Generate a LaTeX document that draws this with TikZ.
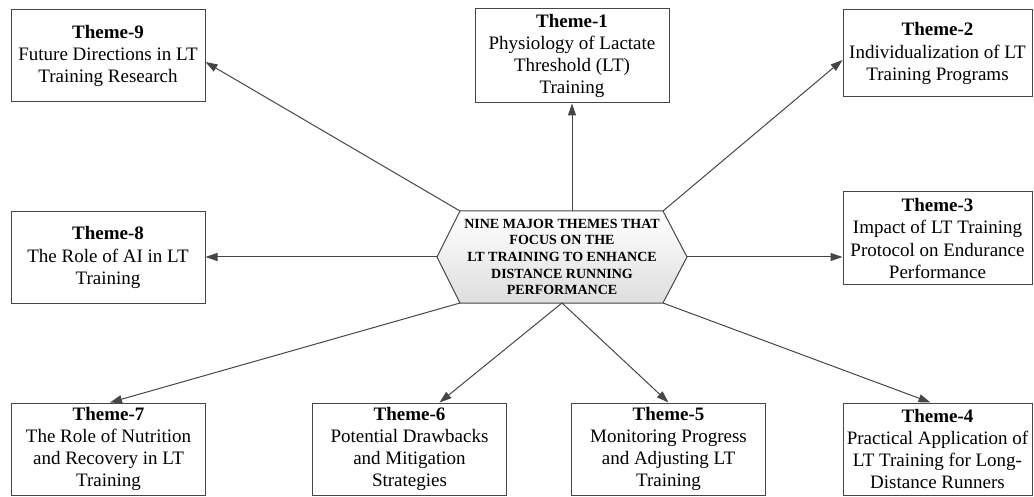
\documentclass[tikz,border=0pt]{standalone}
\usepackage{fontspec}
\setmainfont{Liberation Serif}
\usetikzlibrary{arrows.meta,calc}
\definecolor{edge}{HTML}{464646}
\tikzset{
  theme/.style={draw=edge, line width=1pt, fill=white, align=center,
    font=\fontsize{19}{22.3}\selectfont, inner sep=0pt,
    minimum width=194pt, minimum height=92pt},
  conn/.style={draw=edge, line width=1pt, -{Triangle[length=12pt,width=8pt]}},
  hexfill/.style={draw=edge, line width=1pt, top color=white, bottom color=black!13},
  hextext/.style={align=center, font=\fontsize{14}{16.7}\selectfont\bfseries, inner sep=0pt}
}
\begin{document}
\begin{tikzpicture}[x=1pt,y=-1pt]
\useasboundingbox (0,0) rectangle (1034,497);
% hexagon corners
\coordinate (hL) at (437,257);
\coordinate (hTL) at (460,211);
\coordinate (hTR) at (663,211);
\coordinate (hR) at (687,257);
\coordinate (hBR) at (663,303);
\coordinate (hBL) at (460,303);
\coordinate (hT) at (572,211);
\coordinate (hB) at (562,303);
\path[hexfill] (hL) -- (hTL) -- (hTR) -- (hR) -- (hBR) -- (hBL) -- cycle;
\node[hextext] (hex) at (562,257) {NINE MAJOR THEMES THAT\\FOCUS ON THE\\LT TRAINING TO ENHANCE\\DISTANCE RUNNING\\PERFORMANCE};
% theme boxes
\node[theme] (t9) at (108,56) {\textbf{Theme-9}\\Future Directions in LT\\Training Research};
\node[theme, minimum height=94pt] (t1) at (572,56) {\textbf{Theme-1}\\Physiology of Lactate\\Threshold (LT)\\Training};
\node[theme, minimum width=189pt, minimum height=87pt] (t2) at (937.5,53.5) {\textbf{Theme-2}\\Individualization of LT\\Training Programs};
\node[theme] (t8) at (108,257.5) {\textbf{Theme-8}\\The Role of AI in LT\\Training};
\node[theme, minimum width=189pt, minimum height=93pt] (t3) at (937.5,238.5) {\textbf{Theme-3}\\Impact of LT Training\\Protocol on Endurance\\Performance};
\node[theme] (t7) at (108.5,449) {\textbf{Theme-7}\\The Role of Nutrition\\and Recovery in LT\\Training};
\node[theme] (t6) at (409.5,449) {\textbf{Theme-6}\\Potential Drawbacks\\and Mitigation\\Strategies};
\node[theme] (t5) at (668.5,449) {\textbf{Theme-5}\\Monitoring Progress\\and Adjusting LT\\Training};
\node[theme, minimum width=189pt] (t4) at (937.5,449) {\textbf{Theme-4}\\Practical Application of\\LT Training for Long-\\Distance Runners};
% connectors
\draw[conn] (hT) -- (t1.south);
\draw[conn] (hTL) -- ([yshift=-6pt]t9.east);
\draw[conn] (hTR) -- ([yshift=-6.5pt]t2.west);
\draw[conn] (hL) -- (t8.east |- hL);
\draw[conn] (hR) -- (t3.west |- hR);
\draw[conn] (hBL) -- ([xshift=1.5pt]t7.north);
\draw[conn] (hB) -- ([xshift=30pt]t6.north);
\draw[conn] (hB) -- (t5.north);
\draw[conn] (hBR) -- ([xshift=-7pt]t4.north);
\end{tikzpicture}
\end{document}
